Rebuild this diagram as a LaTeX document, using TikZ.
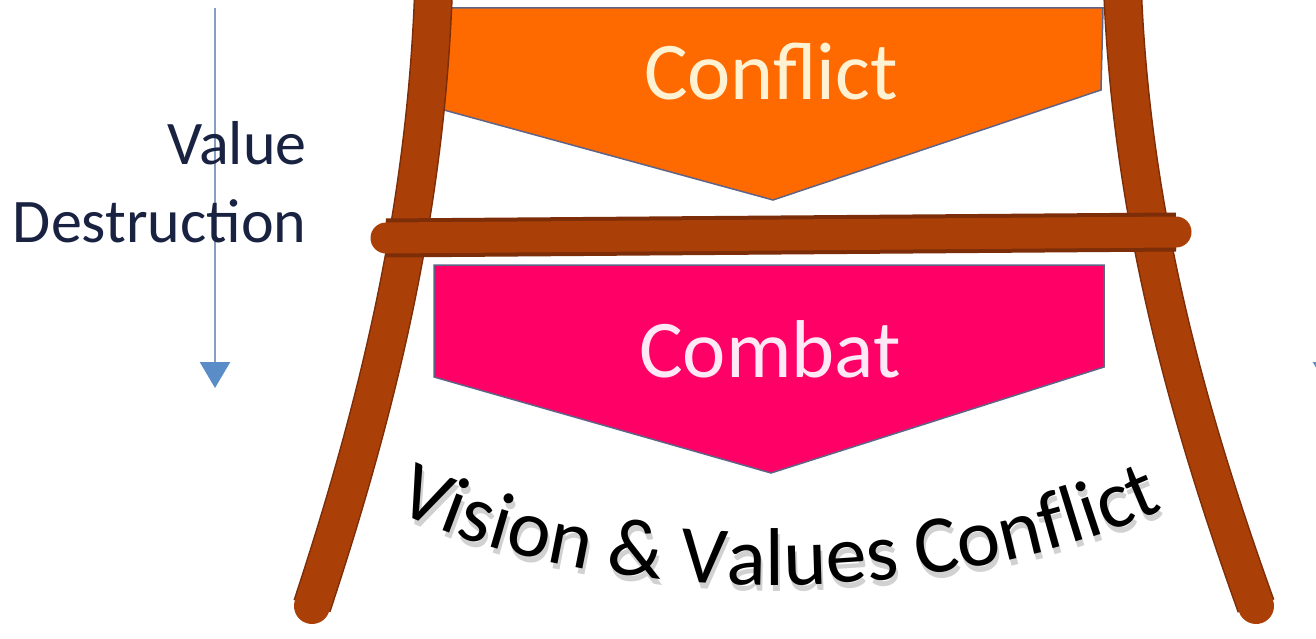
\documentclass[tikz,border=0pt]{standalone}
\usepackage{fontspec}
\setmainfont{Carlito}
\usetikzlibrary{arrows.meta}
\usetikzlibrary{decorations.text}

\definecolor{woodbrown}{RGB}{170,64,8}
\definecolor{wooddark}{RGB}{125,45,8}
\definecolor{conflictorange}{RGB}{255,106,0}
\definecolor{combatpink}{RGB}{255,0,102}
\definecolor{edgeslate}{RGB}{95,100,135}
\definecolor{labelnavy}{RGB}{25,35,65}
\definecolor{arrowline}{RGB}{135,158,195}
\definecolor{arrowfill}{RGB}{90,140,200}

\begin{document}
\begin{tikzpicture}[x=1pt, y=-1pt,
    wood/.style={line cap=round, line width=36pt, draw=woodbrown, preaction={draw=wooddark, line width=39pt}},
    crossbar/.style={wood, line width=31pt, preaction={draw=wooddark, line width=34pt}},
    boxedge/.style={draw=edgeslate, line width=1.5pt, line join=miter},
    panel text/.style={anchor=base, font=\fontsize{82}{82}\selectfont},
    side text/.style={anchor=base east, text=labelnavy, font=\fontsize{62}{62}\selectfont},
    valuearrow/.style={draw=arrowline, line width=2.5pt, -{Triangle[length=26pt, width=30pt, fill=arrowfill, color=arrowfill]}}]
    \clip (0,0) rectangle (1316,639);
    \fill[white] (0,0) rectangle (1316,639);

    % down arrows
    \coordinate (arrowtop) at (215,8);
    \coordinate (arrowtip) at (215,388);
    \coordinate (farrowtop) at (1328,8);
    \coordinate (farrowtip) at (1328,388);
    \draw[valuearrow] (arrowtop) -- (arrowtip);
    \draw[valuearrow] (farrowtop) -- (farrowtip);

    \node[side text] (value) at (310,165) {Value};
    \node[side text] (destruction) at (310,242) {Destruction};

    % the two boards
    \draw[boxedge, fill=conflictorange] (431,8) -- (1103,8) -- (1101,90) -- (773,200) -- (433,107) -- cycle;
    \draw[boxedge, fill=combatpink] (434,265) -- (1104,265) -- (1104,367) -- (771,473) -- (434,377) -- cycle;
    \node[panel text, text={rgb,255:red,255;green,242;blue,210}] (conflict) at (771,100) {Conflict};
    \node[panel text, text={rgb,255:red,255;green,232;blue,245}] (combat) at (770,377) {Combat};

    % easel
    \draw[wood] (434,-25) .. controls (428,200) and (380,400) .. (312,606);
    \draw[wood] (1122,-25) .. controls (1129,200) and (1182,400) .. (1256,606);
    \draw[crossbar] (386,238) -- (1176,232);

    % bent caption
    \path[decorate, decoration={text along path, text align=center, text color=black!18,
        text={|\fontsize{82}{82}\selectfont|Vision {\&} Values Conflict}}]
        (391,513) .. controls (596,617) and (946,617) .. (1171,513);
    \path[decorate, decoration={text along path, text align=center, text color=black,
        text={|\fontsize{82}{82}\selectfont|Vision {\&} Values Conflict}}]
        (389,507) .. controls (594,611) and (944,611) .. (1169,507);
\end{tikzpicture}
\end{document}
